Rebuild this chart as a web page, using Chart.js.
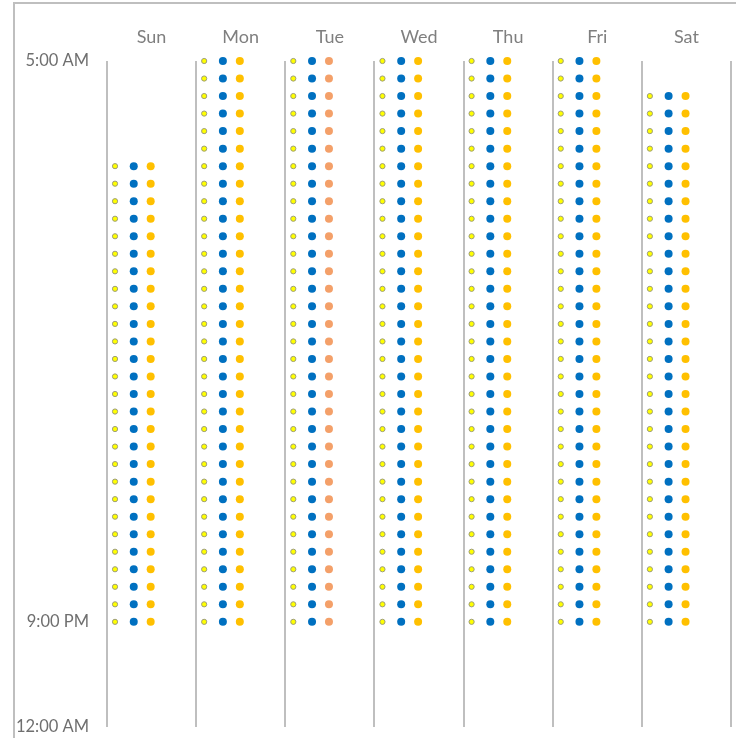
<!DOCTYPE html>
<html>
<head>
<meta charset="utf-8">
<script src="https://cdn.jsdelivr.net/npm/chart.js@4"></script>
<style>
    html, body { margin: 0; padding: 0; background: #fff; }
    #wrap { position: relative; width: 736px; height: 738px; }
    #frame { position: absolute; left: 13px; top: 2px; right: 0; bottom: 0;
             border-left: 2px solid #bfbfbf; border-top: 2px solid #bfbfbf; }
    canvas { position: absolute; left: 0; top: 0; }
</style>
</head>
<body>
<div id="wrap">
    <div id="frame"></div>
    <canvas id="schedule" width="736" height="738"></canvas>
</div>
<script>
const days = ["Sun", "Mon", "Tue", "Wed", "Thu", "Fri", "Sat"];

// half-hour slots, in hours after midnight
const timeSlots = [5, 5.5, 6, 6.5, 7, 7.5, 8, 8.5, 9, 9.5, 10, 10.5, 11, 11.5, 12, 12.5,
    13, 13.5, 14, 14.5, 15, 15.5, 16, 16.5, 17, 17.5, 18, 18.5, 19, 19.5, 20, 20.5, 21];

// first and last slot with a dot, per day
const firstSlot = [8, 5, 5, 5, 5, 5, 6];
const lastSlot = [21, 21, 21, 21, 21, 21, 21];

const yTicks = [5, 21, 24];
const yTickLabels = {5: "5:00 AM", 21: "9:00 PM", 24: "12:00 AM"};

const seriesNames = ["Series 1", "Series 2", "Series 3"];

function seriesPoints(offset) {
    const pts = [];
    days.forEach((d, i) => {
        timeSlots.forEach(t => {
            if (t >= firstSlot[i] && t <= lastSlot[i]) pts.push({x: i + offset, y: t});
        });
    });
    return pts;
}

const ctx = document.getElementById("schedule").getContext("2d");

new Chart(ctx, {
    type: "scatter",
    data: {
        datasets: [
            {
                label: seriesNames[0],
                data: seriesPoints(0.09),
                pointRadius: 2.6,
                pointBackgroundColor: "#ffff00",
                pointBorderColor: "#9c9c7a",
                pointBorderWidth: 1,
                clip: false
            },
            {
                label: seriesNames[1],
                data: seriesPoints(0.30),
                pointRadius: 4,
                pointBackgroundColor: "#0070c0",
                pointBorderWidth: 0,
                clip: false
            },
            {
                label: seriesNames[2],
                data: seriesPoints(0.49),
                pointRadius: 4,
                pointBackgroundColor: c => (c.raw && Math.floor(c.raw.x) === 2) ? "#f4a069" : "#ffc000",
                pointBorderWidth: 0,
                clip: false
            }
        ]
    },
    options: {
        responsive: false,
        animation: false,
        layout: { padding: { left: 0, right: 1, top: 0, bottom: 0 } },
        plugins: {
            legend: { display: false },
            tooltip: { enabled: false }
        },
        scales: {
            x: {
                type: "linear",
                min: 0,
                max: 7,
                ticks: { display: false, stepSize: 1 },
                grid: { color: "#bfbfbf", lineWidth: 2, drawTicks: false },
                border: { display: false },
                afterFit: s => { s.height = 11; s.paddingLeft = 0; s.paddingRight = 0; }
            },
            days: {
                type: "category",
                position: "top",
                labels: days,
                offset: true,
                grid: { display: false, drawTicks: false },
                border: { display: false },
                ticks: {
                    color: "#7f7f7f",
                    font: { family: "Lato", size: 18 },
                    padding: 13
                },
                afterFit: s => { s.height = 61; s.paddingLeft = 0; s.paddingRight = 0; }
            },
            y: {
                type: "linear",
                reverse: true,
                min: 5,
                max: 24,
                afterBuildTicks: s => { s.ticks = yTicks.map(v => ({value: v})); },
                ticks: {
                    color: "#6f6f6f",
                    font: { family: "Lato", size: 16.5 },
                    padding: 18,
                    callback: v => yTickLabels[v]
                },
                grid: { display: false, drawTicks: false },
                border: { display: false },
                afterFit: s => { s.width = 107; s.paddingTop = 0; s.paddingBottom = 0; }
            }
        }
    }
});
</script>
</body>
</html>
